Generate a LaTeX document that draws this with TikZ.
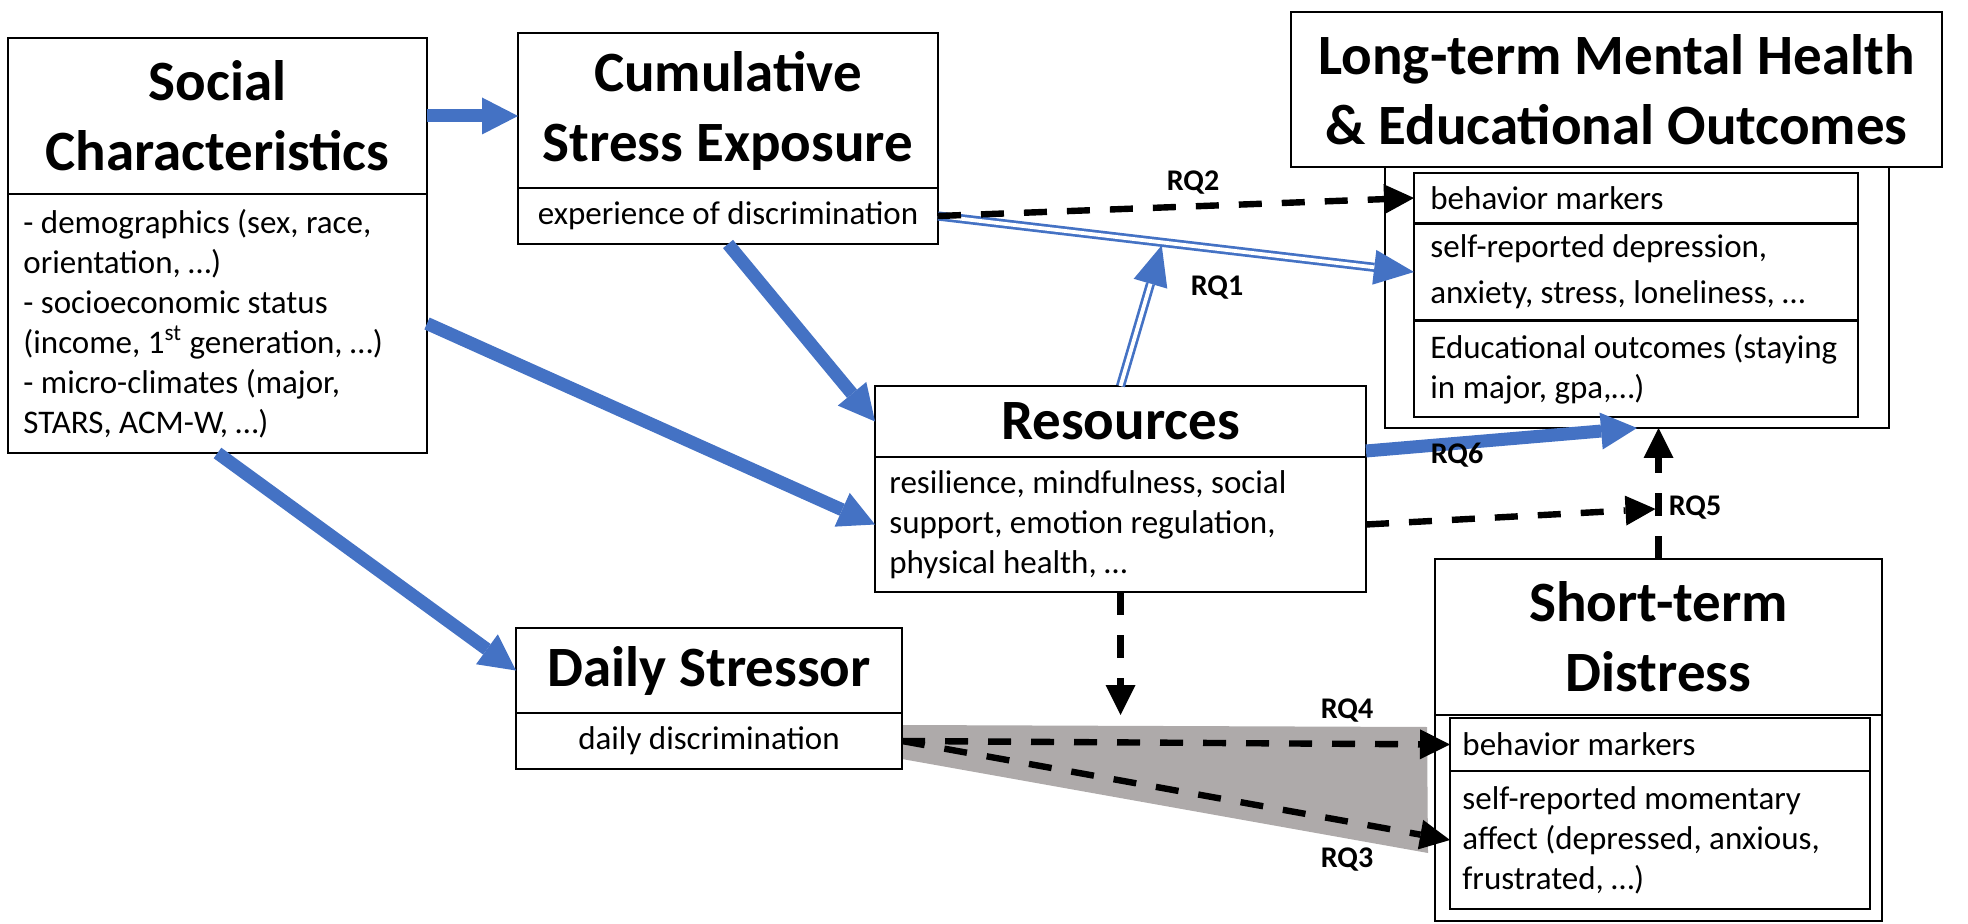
\documentclass[tikz,border=0pt]{standalone}
\usepackage{fontspec}
\setmainfont{Carlito}
\usetikzlibrary{arrows.meta,calc}
\definecolor{myblue}{HTML}{4472C4}
\definecolor{hlgray}{HTML}{AEAAAA}
\tikzset{
  box/.style={draw=black, line width=1pt, anchor=north west, inner sep=0pt, outer sep=0pt},
  ttl/.style={box, font=\fontsize{28.5}{35}\selectfont\bfseries, align=center},
  bodc/.style={box, font=\fontsize{16.5}{20}\selectfont, align=center},
  txt/.style={font=\fontsize{16.5}{20}\selectfont, align=left, anchor=west, inner sep=0pt},
  rq/.style={font=\fontsize{15}{17}\selectfont\bfseries, inner sep=0pt},
  bluearr/.style={draw=myblue, line width=6.5pt, -{Triangle[length=18pt,width=18.5pt,line width=0pt]}},
  dasharr/.style={draw=black, line width=3.2pt, dash pattern=on 11.5pt off 10pt, -{Triangle[length=15pt,width=15pt,line width=0pt]}},
  dbltip/.style={draw=myblue, line width=0.5pt, -{Triangle[length=20pt,width=17.5pt,line width=0pt]}},
  dbl/.style={draw=myblue, line width=1.35pt, double=white, double distance=1.9pt, shorten >=20pt},
}
\begin{document}
\begin{tikzpicture}[x=0.5pt,y=-0.5pt]
\useasboundingbox (0,0) rectangle (1968,924);

% highlight
\fill[hlgray] (902,725) -- (1427,727) -- (1428,853) -- (902,759) -- cycle;

% Social Characteristics
\node[ttl, minimum width=209.5pt, minimum height=78pt] (soct) at (8,38) {Social\\Characteristics};
\node[box, minimum width=209.5pt, minimum height=129.5pt] (socb) at (8,194) {};
\node[txt] (socbt) at ([xshift=7.5pt]socb.west) {- demographics (sex, race,\\orientation, …)\\- socioeconomic status\\(income, 1\textsuperscript{st} generation, …)\\- micro-climates (major,\\STARS, ACM-W, …)};

% Cumulative Stress Exposure
\node[ttl, minimum width=210pt, minimum height=77.5pt] (cumt) at (518,33) {Cumulative\\Stress Exposure};
\node[bodc, minimum width=210pt, minimum height=28pt] (cumb) at (518,188) {experience of discrimination};

% Long-term outcomes
\node[ttl, minimum width=325.5pt, minimum height=77.5pt] (ltt) at (1291,12) {Long-term Mental Health\\\& Educational Outcomes};
\node[box, minimum width=252pt, minimum height=130.5pt] (ltc) at (1385,167) {};
\node[box, minimum width=222pt, minimum height=25pt] (ltbeh) at (1414,173) {};
\node[txt] (ltbeht) at ([xshift=8pt]ltbeh.west) {behavior markers};
\node[box, minimum width=222pt, minimum height=48pt] (ltself) at (1414,224) {};
\node[txt, font=\fontsize{16.5}{23}\selectfont] (ltselft) at ([xshift=8pt]ltself.west) {self-reported depression,\\anxiety, stress, loneliness, …};
\node[box, minimum width=222pt, minimum height=48pt] (ltedu) at (1414,321) {};
\node[txt] (ltedut) at ([xshift=8pt]ltedu.west) {Educational outcomes (staying\\in major, gpa,…)};

% Resources
\node[ttl, minimum width=245.5pt, minimum height=35.5pt] (rest) at (875,386) {Resources};
\node[box, minimum width=245.5pt, minimum height=67.5pt] (resb) at (875,457) {};
\node[txt] (resbt) at ([xshift=7pt]resb.west) {resilience, mindfulness, social\\support, emotion regulation,\\physical health, …};

% Daily Stressor
\node[ttl, minimum width=193pt, minimum height=42.5pt] (dayt) at (516,628) {Daily Stressor};
\node[bodc, minimum width=193pt, minimum height=28pt] (dayb) at (516,713) {daily discrimination};

% Short-term Distress
\node[ttl, minimum width=223.5pt, minimum height=78pt] (stt) at (1435,559) {Short-term\\Distress};
\node[box, minimum width=223.5pt, minimum height=103pt] (stb) at (1435,715) {};
\node[box, minimum width=210pt, minimum height=26.5pt] (stbeh) at (1450,718) {};
\node[txt] (stbeht) at ([xshift=6pt]stbeh.west) {behavior markers};
\node[box, minimum width=210pt, minimum height=69pt] (stself) at (1450,771) {};
\node[txt] (stselft) at ([xshift=6pt]stself.west) {self-reported momentary\\affect (depressed, anxious,\\frustrated, …)};

% helper coordinates
\coordinate (ltbot) at (stt.north |- ltc.south);
\coordinate (rq5e) at ($(stt.north)!0.382!(ltbot)$);
\coordinate (rq1e) at ($(cumb.east)!0.47!(ltself.west)$);

% blue arrows
\draw[bluearr] (soct.east) -- (soct.east -| cumt.west);
\draw[bluearr] (cumb.south) -- (rest.west);
\draw[bluearr] (socb.east) -- (resb.west);
\draw[bluearr] (socb.south) -- (dayt.west);
\draw[bluearr] ([yshift=3pt]rest.south east) -- (ltc.south);

% double blue arrows
\draw[dbltip] (cumb.east) -- (ltself.west);
\draw[dbl] (cumb.east) -- (ltself.west);

% black dashed arrows
\draw[dasharr] (cumb.east) -- (ltbeh.west);
\draw[dasharr] (stt.north) -- (ltbot);
\draw[dasharr] (resb.east) -- ([xshift=-1.5pt]rq5e);
\draw[dasharr] (resb.south) -- (resb.south |- stb.north);
\draw[dasharr] (dayb.east) -- (stbeh.west);
\draw[dasharr] (dayb.east) -- (stself.west);

% moderation double arrow
\draw[dbltip] (rest.north) -- ([yshift=-1.5pt]rq1e);
\draw[dbl] (rest.north) -- ([yshift=-1.5pt]rq1e);

% labels
\node[rq] (rq2) at (1193,183) {RQ2};
\node[rq] (rq1) at (1217,288) {RQ1};
\node[rq] (rq6) at (1457,455) {RQ6};
\node[rq] (rq5) at (1695,508) {RQ5};
\node[rq] (rq4) at (1347,711) {RQ4};
\node[rq] (rq3) at (1347,860) {RQ3};
\end{tikzpicture}
\end{document}
